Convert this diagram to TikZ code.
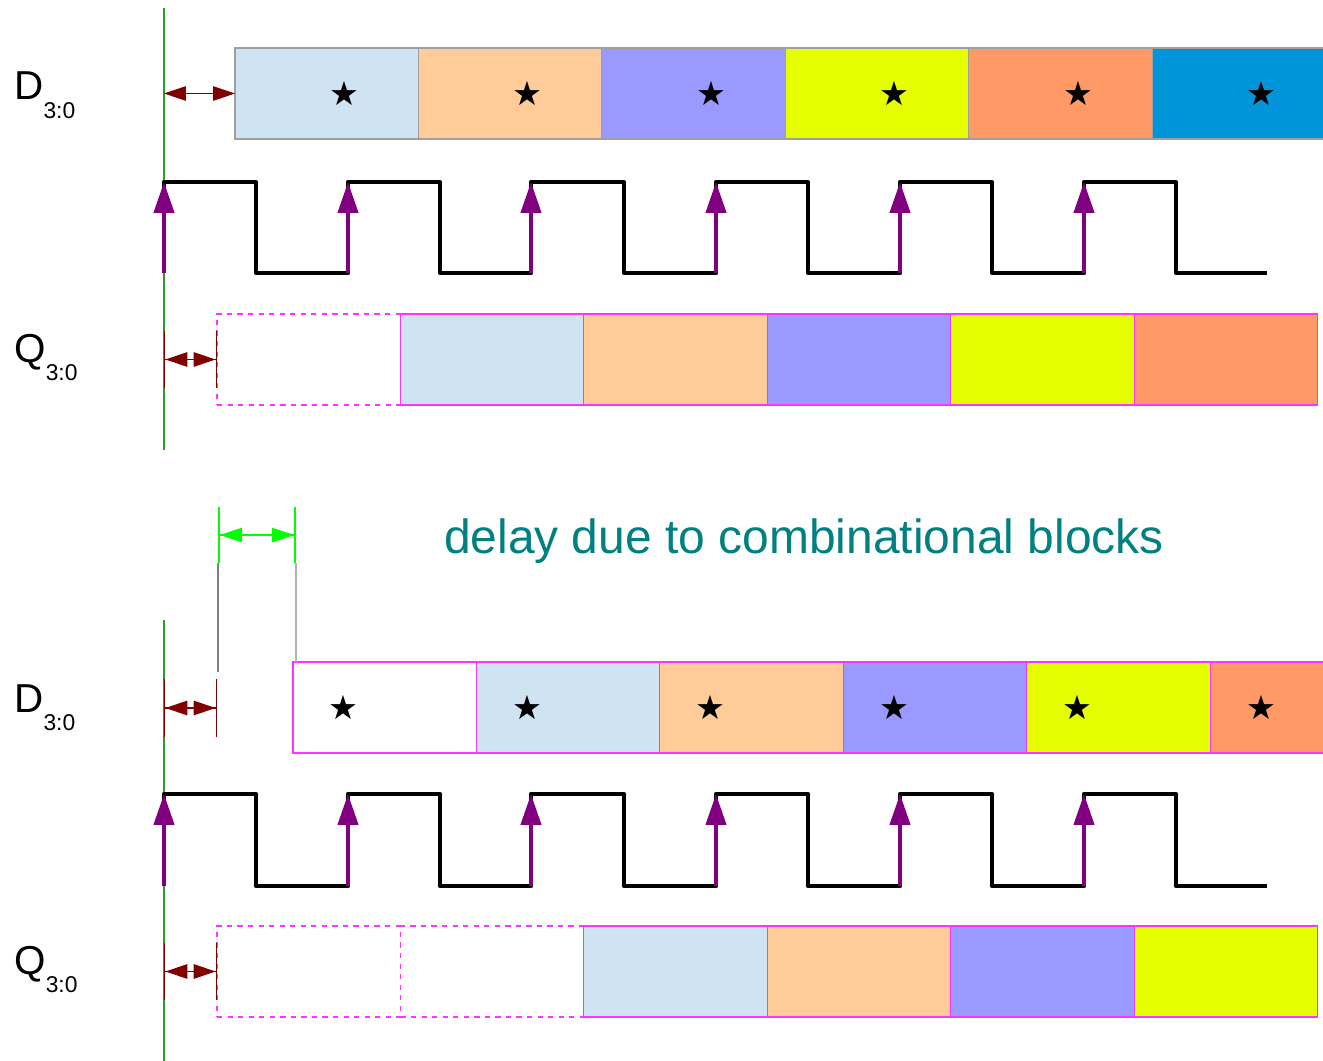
\documentclass[tikz,border=0pt]{standalone}
\usepackage{fontspec}
\setmainfont{Liberation Sans}
\newfontfamily\dejavu{DejaVu Sans}
\usetikzlibrary{arrows.meta,positioning}

\definecolor{dblue}{RGB}{207,228,242}
\definecolor{dpeach}{RGB}{255,204,153}
\definecolor{dlilac}{RGB}{153,153,255}
\definecolor{dlime}{RGB}{230,255,0}
\definecolor{dorange}{RGB}{255,153,102}
\definecolor{dsky}{RGB}{0,148,217}
\definecolor{qmag}{RGB}{255,51,255}
\definecolor{skewred}{RGB}{128,0,0}
\definecolor{clkpurple}{RGB}{128,0,128}
\definecolor{refgreen}{RGB}{40,160,40}
\definecolor{delaygreen}{RGB}{0,255,0}
\definecolor{delayteal}{RGB}{0,128,128}

\newcommand{\starsym}{{\dejavu\fontsize{19}{19}\selectfont ★}}
\newcommand{\bus}[1]{#1\raisebox{-10.5pt}{\fontsize{13}{13}\selectfont 3:0}}

\begin{document}
\begin{tikzpicture}[
    x=0.02cm, y=-0.02cm,
    node distance=0mm,
    word/.style={inner sep=0pt, anchor=base west, font=\fontsize{23}{23}\selectfont},
    slot/.style={rectangle, minimum width=3.67cm, minimum height=1.82cm,
      inner sep=0pt, outer sep=0pt, line width=0.6pt},
    dslot/.style={slot, draw=gray!75},
    qslot/.style={slot, draw=qmag},
    idle/.style={slot, draw=qmag, dashed, fill=white},
    starred/.style={label={[xshift=#1, inner sep=0pt]center:\starsym}},
    clk/.style={black, line width=2.6pt, line join=round},
    edge/.style={clkpurple, line width=2.4pt, -{Triangle[length=6.2mm,width=4mm]}},
    ref/.style={refgreen, line width=0.8pt},
    skew/.style={skewred, line width=0.6pt,
      {Triangle[length=4.4mm,width=2.9mm]}-{Triangle[length=4.4mm,width=2.9mm]}},
    tskew/.style={skewred, line width=0.8pt,
      {Bar[width=1.15cm]Triangle[length=4.4mm,width=2.9mm]}-{Triangle[length=4.4mm,width=2.9mm]Bar[width=1.15cm]}},
    delay/.style={delaygreen, line width=1pt,
      {Bar[width=1.14cm]Triangle[length=4.4mm,width=2.8mm]}-{Triangle[length=4.4mm,width=2.8mm]Bar[width=1.14cm]}},
    guide/.style={gray, line width=0.6pt}
  ]

  \useasboundingbox (0,0) rectangle (1323,1061);
  \clip (0,0) rectangle (1323,1061);

  % reference lines and clock levels
  \coordinate (g1top) at (164,8);   \coordinate (g1bot) at (164,450);
  \coordinate (g2top) at (164,620); \coordinate (g2bot) at (164,1061);
  \coordinate (hi1) at (0,182);     \coordinate (hi2) at (0,794);

  % ---- register without logic ----

  \node (dlab) [word] at (14,100) {\bus{D}};
  \node (qlab) [word] at (14,362) {\bus{Q}};

  \node (d1) [dslot, fill=dblue,   starred=3.5mm, anchor=north west] at (235,48) {};
  \node (d2) [dslot, fill=dpeach,  starred=3.5mm, right=of d1] {};
  \node (d3) [dslot, fill=dlilac,  starred=3.5mm, right=of d2] {};
  \node (d4) [dslot, fill=dlime,   starred=3.5mm, right=of d3] {};
  \node (d5) [dslot, fill=dorange, starred=3.5mm, right=of d4] {};
  \node (d6) [dslot, fill=dsky,    starred=3.5mm, right=of d5] {};

  \node (q0) [idle, anchor=north west] at (217,314) {};
  \node (q1) [qslot, fill=dblue,   right=of q0] {};
  \node (q2) [qslot, fill=dpeach,  right=of q1] {};
  \node (q3) [qslot, fill=dlilac,  right=of q2] {};
  \node (q4) [qslot, fill=dlime,   right=of q3] {};
  \node (q5) [qslot, fill=dorange, right=of q4] {};

  \draw[ref] (g1top) -- (g1bot);

  \draw[clk] (164,273) |- (256,182) |- (348,273) |- (440,182) |- (531,273) |- (624,182)
             |- (716,273) |- (808,182) |- (900,273) |- (992,182) |- (1084,273)
             |- (1176,182) |- (1267,273);

  \coordinate (r1) at (164,273); \coordinate (r2) at (348,273); \coordinate (r3) at (531,273);
  \coordinate (r4) at (716,273); \coordinate (r5) at (900,273); \coordinate (r6) at (1084,273);
  \draw[edge] (r1) -- (r1 |- hi1);
  \draw[edge] (r2) -- (r2 |- hi1);
  \draw[edge] (r3) -- (r3 |- hi1);
  \draw[edge] (r4) -- (r4 |- hi1);
  \draw[edge] (r5) -- (r5 |- hi1);
  \draw[edge] (r6) -- (r6 |- hi1);

  \draw[skew]  (d1.west -| g1top) -- (d1.west);
  \draw[tskew] (q0.west -| g1top) -- (q0.west);

  % ---- register behind combinational logic ----

  \node (delaytxt) [inner sep=0pt, anchor=base, text=delayteal,
                    font=\fontsize{27.3}{27.3}\selectfont] at (804,553)
                   {delay due to combinational blocks};

  \coordinate (dA) at (218,535);
  \coordinate (dB) at (296,535);
  \draw[delay] (dA) -- (dB);

  \node (blab) [word] at (14,712) {\bus{D}};
  \node (plab) [word] at (14,974) {\bus{Q}};

  \node (b1) [qslot, fill=white,   starred=-8.2mm, anchor=north west] at (293,662) {};
  \node (b2) [qslot, fill=dblue,   starred=-8.2mm, right=of b1] {};
  \node (b3) [qslot, fill=dpeach,  starred=-8.2mm, right=of b2] {};
  \node (b4) [qslot, fill=dlilac,  starred=-8.2mm, right=of b3] {};
  \node (b5) [qslot, fill=dlime,   starred=-8.2mm, right=of b4] {};
  \node (b6) [qslot, fill=dorange, starred=-8.2mm, right=of b5] {};

  \node (p0) [idle, anchor=north west] at (217,926) {};
  \node (p1) [idle, right=of p0] {};
  \node (p2) [qslot, fill=dblue,   right=of p1] {};
  \node (p3) [qslot, fill=dpeach,  right=of p2] {};
  \node (p4) [qslot, fill=dlilac,  right=of p3] {};
  \node (p5) [qslot, fill=dlime,   right=of p4] {};

  \coordinate (bl) at (217,708);
  \draw[guide] ([yshift=-0.56cm]dA) -- (dA |- 0,672);
  \draw[guide, gray!60] ([yshift=-0.56cm]dB) -- (dB |- b1.north);

  \draw[ref] (g2top) -- (g2bot);

  \draw[clk] (164,886) |- (256,794) |- (348,886) |- (440,794) |- (531,886) |- (624,794)
             |- (716,886) |- (808,794) |- (900,886) |- (992,794) |- (1084,886)
             |- (1176,794) |- (1267,886);

  \coordinate (s1) at (164,886); \coordinate (s2) at (348,886); \coordinate (s3) at (531,886);
  \coordinate (s4) at (716,886); \coordinate (s5) at (900,886); \coordinate (s6) at (1084,886);
  \draw[edge] (s1) -- (s1 |- hi2);
  \draw[edge] (s2) -- (s2 |- hi2);
  \draw[edge] (s3) -- (s3 |- hi2);
  \draw[edge] (s4) -- (s4 |- hi2);
  \draw[edge] (s5) -- (s5 |- hi2);
  \draw[edge] (s6) -- (s6 |- hi2);

  \draw[tskew] (bl -| g2top) -- (bl);
  \draw[tskew] (p0.west -| g2top) -- (p0.west);

\end{tikzpicture}
\end{document}
